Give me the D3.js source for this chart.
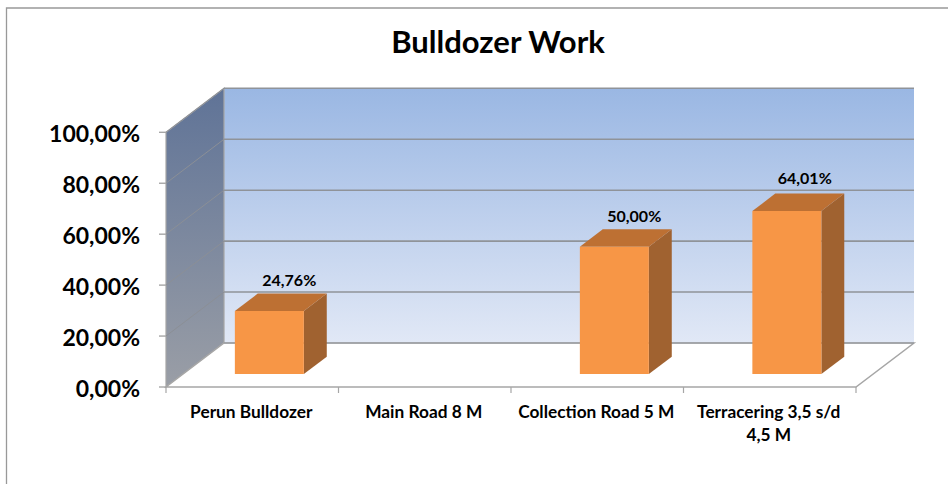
<!DOCTYPE html>
<html>
<head>
<meta charset="utf-8">
<style>
html,body{margin:0;padding:0;background:#fff;}
svg{display:block;}
text{font-family:Lato,"Open Sans",sans-serif;font-weight:700;fill:#000;}
</style>
<script src="https://cdn.jsdelivr.net/npm/d3@7/dist/d3.min.js"></script>
</head>
<body>
<script>
const categories = ["Perun Bulldozer", "Main Road 8 M", "Collection Road 5 M", "Terracering 3,5 s/d|4,5 M"];
const values = [24.76, 0, 50.00, 64.01];
const valueLabels = ["24,76%", "", "50,00%", "64,01%"];
const yTicks = [0, 20, 40, 60, 80, 100];
const yTickLabels = ["0,00%", "20,00%", "40,00%", "60,00%", "80,00%", "100,00%"];
const chartTitle = "Bulldozer Work";

const W = 948, H = 484;
const svg = d3.select("body").append("svg").attr("width", W).attr("height", H);

const x = d3.scaleBand().domain(categories).range([166, 856]).paddingInner(0.6).paddingOuter(0.3);
const step = x.step();
const y = d3.scaleLinear().domain([0, 100]).range([387, 132.3]);
const DX = 58, DY = -44;
const proj = (px, val, depth) => [px + DX * depth, y(val) + DY * depth];
const poly = pts => pts.map(p => p.join(",")).join(" ");

const defs = svg.append("defs");
const back = defs.append("linearGradient").attr("id", "backG").attr("x1", 0).attr("y1", 0).attr("x2", 0).attr("y2", 1);
back.append("stop").attr("offset", 0).attr("stop-color", "#9ab7e3");
back.append("stop").attr("offset", 1).attr("stop-color", "#e1e8f6");
const side = defs.append("linearGradient").attr("id", "sideG").attr("x1", 0).attr("y1", 0).attr("x2", 0).attr("y2", 1);
side.append("stop").attr("offset", 0).attr("stop-color", "#5f7397");
side.append("stop").attr("offset", 1).attr("stop-color", "#9a9ea6");

// outer frame
svg.append("path").attr("d", "M6.5,484V8H948").attr("fill", "none").attr("stroke", "#999").attr("stroke-width", 1.3);

const [x0, x1] = x.range();
const gridCol = "#8f9399";

// back wall
svg.append("polygon").attr("fill", "url(#backG)")
  .attr("points", poly([proj(x0, 100, 1), proj(x1, 100, 1), proj(x1, 0, 1), proj(x0, 0, 1)]));
// side wall
svg.append("polygon").attr("fill", "url(#sideG)").attr("stroke", "#a6a6a6").attr("stroke-width", 1.2)
  .attr("points", poly([proj(x0, 100, 0), proj(x0, 100, 1), proj(x0, 0, 1), proj(x0, 0, 0)]));
// floor
svg.append("polygon").attr("fill", "#fff").attr("stroke", "#a6a6a6").attr("stroke-width", 1.5)
  .attr("points", poly([proj(x0, 0, 0), proj(x1, 0, 0), proj(x1, 0, 1), proj(x0, 0, 1)]));

// gridlines
yTicks.forEach(t => {
  const a = proj(x0, t, 0), b = proj(x0, t, 1), c = proj(x1, t, 1);
  svg.append("path").attr("fill", "none").attr("stroke", gridCol).attr("stroke-width", t === 0 ? 1.2 : 1.6)
    .attr("d", d3.line()([b, c]));
  if (t > 0) svg.append("path").attr("fill", "none").attr("stroke", "#8b8f96").attr("stroke-width", 1)
    .attr("d", d3.line()([a, b]));
});

// y ticks and labels
yTicks.forEach((t, i) => {
  svg.append("line").attr("x1", x0 - 7).attr("x2", x0).attr("y1", y(t)).attr("y2", y(t))
    .attr("stroke", "#a6a6a6").attr("stroke-width", 1.4);
  svg.append("text").attr("x", 140).attr("y", y(t) + 9.5).attr("text-anchor", "end")
    .attr("font-size", 23).text(yTickLabels[i]);
});

// x ticks and labels
d3.range(categories.length + 1).forEach(i => {
  const px = x0 + i * step;
  svg.append("line").attr("x1", px).attr("x2", px).attr("y1", 387).attr("y2", 393)
    .attr("stroke", "#a6a6a6").attr("stroke-width", 1.2);
});
categories.forEach((c, i) => {
  const lines = c.split("|");
  const cx = x0 + (i + 0.5) * step - 1;
  lines.forEach((ln, j) => {
    svg.append("text").attr("x", cx).attr("y", 418 + j * 23).attr("text-anchor", "middle")
      .attr("font-size", 17.3).text(ln);
  });
});

// bars
const d0 = 0.295, d1 = 0.69;
// label nudges so each value label sits where the original placed it
const labelNudgeX = [-3, 0, -3, -5];
const labelNudgeY = [-8, 0, -7, -10];
categories.forEach((c, i) => {
  const v = values[i];
  if (!v) return;
  const L = x(c), R = L + x.bandwidth();
  svg.append("polygon").attr("fill", "#a06230")
    .attr("points", poly([proj(R, 0, d0), proj(R, 0, d1), proj(R, v, d1), proj(R, v, d0)]));
  svg.append("polygon").attr("fill", "#bd7033")
    .attr("points", poly([proj(L, v, d0), proj(R, v, d0), proj(R, v, d1), proj(L, v, d1)]));
  svg.append("polygon").attr("fill", "#f79646")
    .attr("points", poly([proj(L, 0, d0), proj(R, 0, d0), proj(R, v, d0), proj(L, v, d0)]));
  const top = proj((L + R) / 2, v, d1);
  svg.append("text").attr("x", top[0] + labelNudgeX[i]).attr("y", top[1] + labelNudgeY[i]).attr("text-anchor", "middle")
    .attr("font-size", 16).text(valueLabels[i]);
});

svg.append("text").attr("x", 498).attr("y", 53).attr("text-anchor", "middle")
  .attr("font-size", 31).text(chartTitle);
</script>
</body>
</html>
